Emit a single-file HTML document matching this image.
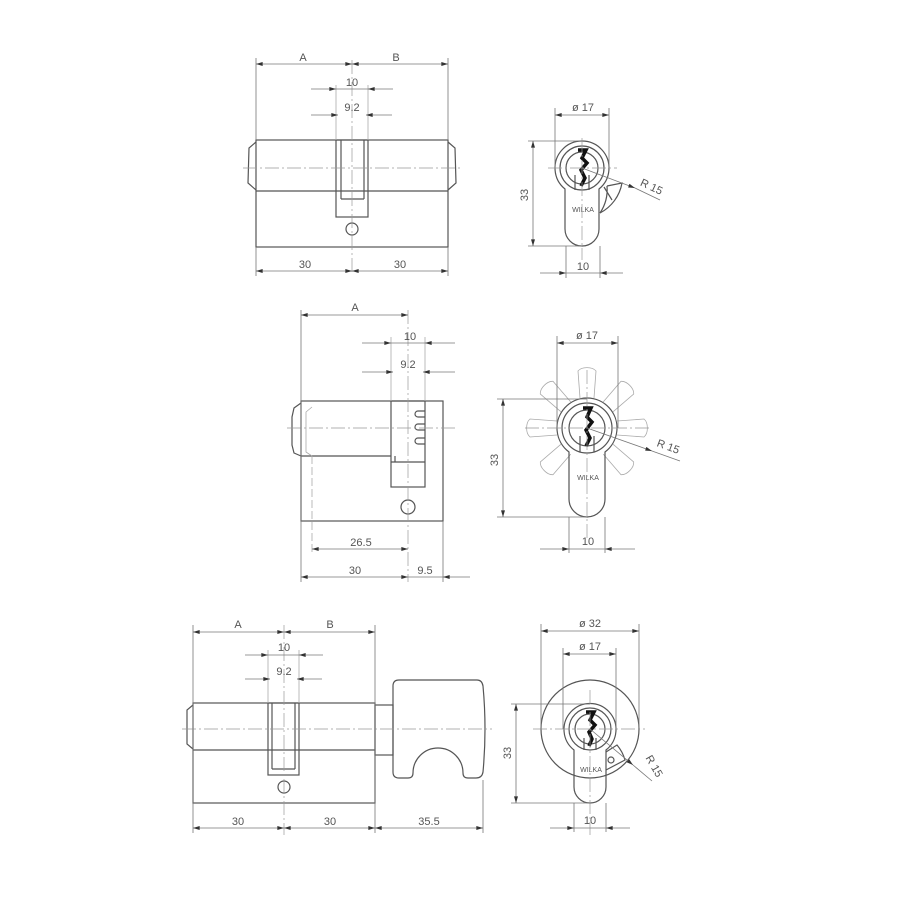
<!DOCTYPE html>
<html><head><meta charset="utf-8"><style>
html,body{margin:0;padding:0;background:#fff}
svg{display:block}
text{font-family:"Liberation Sans",sans-serif;fill:#555;font-size:11px;text-anchor:middle}
.o{fill:none;stroke:#555;stroke-width:1.2}
.d{fill:none;stroke:#777;stroke-width:0.8}
.c{fill:none;stroke:#999;stroke-width:0.7;stroke-dasharray:14 3 2 3}
.l{fill:none;stroke:#aaa;stroke-width:0.8}
</style></head><body>
<svg width="900" height="900" viewBox="0 0 900 900" xmlns="http://www.w3.org/2000/svg">
<defs>
<marker id="a" viewBox="0 0 10 6" refX="10" refY="3" markerWidth="10" markerHeight="4" orient="auto-start-reverse" markerUnits="userSpaceOnUse"><path d="M0,0 L10,3 L0,6z" fill="#333"/></marker>
</defs>

<!-- ===== Drawing 1 side ===== -->
<g>
<rect class="o" x="256" y="140" width="192" height="107"/>
<line class="o" x1="256" y1="191" x2="448" y2="191"/>
<path class="o" d="M256,142 L249,148 L248,183 L256,190"/>
<path class="o" d="M448,142 L455,148 L456,183 L448,190"/>
<rect class="o" x="336" y="140" width="32" height="77" fill="#fff"/>
<line class="o" x1="341" y1="140" x2="341" y2="199"/>
<line class="o" x1="364" y1="140" x2="364" y2="199"/>
<line class="o" x1="341" y1="199" x2="364" y2="199"/>
<circle class="o" cx="352" cy="229" r="6"/>
<line class="c" x1="243" y1="168" x2="462" y2="168"/>
<line class="c" x1="352" y1="60" x2="352" y2="275"/>
<line class="d" x1="256" y1="58" x2="256" y2="140"/>
<line class="d" x1="448" y1="58" x2="448" y2="140"/>
<line class="d" x1="256" y1="64" x2="352" y2="64" marker-start="url(#a)" marker-end="url(#a)"/>
<line class="d" x1="352" y1="64" x2="448" y2="64" marker-start="url(#a)" marker-end="url(#a)"/>
<text x="303" y="61">A</text><text x="396" y="61">B</text>
<line class="l" x1="336" y1="85" x2="336" y2="140"/>
<line class="l" x1="368" y1="85" x2="368" y2="140"/>
<line class="d" x1="311" y1="89" x2="336" y2="89" marker-end="url(#a)"/>
<line class="d" x1="393" y1="89" x2="368" y2="89" marker-end="url(#a)"/>
<line class="d" x1="336" y1="89" x2="368" y2="89"/>
<text x="352" y="86">10</text>
<line class="d" x1="311" y1="115" x2="338" y2="115" marker-end="url(#a)"/>
<line class="d" x1="392" y1="115" x2="366" y2="115" marker-end="url(#a)"/>
<text x="352" y="111">9.2</text>
<line class="d" x1="256" y1="247" x2="256" y2="276"/>
<line class="d" x1="448" y1="247" x2="448" y2="276"/>
<line class="d" x1="256" y1="271" x2="352" y2="271" marker-start="url(#a)" marker-end="url(#a)"/>
<line class="d" x1="352" y1="271" x2="448" y2="271" marker-start="url(#a)" marker-end="url(#a)"/>
<text x="305" y="268">30</text><text x="400" y="268">30</text>
</g>

<!-- ===== Drawing 1 front ===== -->
<g>
<path class="o" d="M565,189 A27,27 0 1 1 599,189 L599,229 A17,17 0 0 1 565,229 Z"/>
<circle class="o" cx="582" cy="168" r="22"/>
<circle class="o" cx="582" cy="168" r="16"/>
<path d="M578,150 L586,150 L582,158 L587,163 L581,170 L585,178 L581,186" fill="none" stroke="#111" stroke-width="3.5"/>
<line class="o" x1="575" y1="175" x2="575" y2="190"/><line class="o" x1="589" y1="175" x2="589" y2="190"/>
<path class="o" d="M604,187 L612,200 M607,186 A42,42 0 0 1 600,213"/>
<path class="o" d="M607,186 L622,183 A42,42 0 0 1 600,213"/>
<text x="583" y="212" style="font-size:7px">WILKA</text>
<line class="c" x1="548" y1="168" x2="617" y2="168"/>
<line class="c" x1="582" y1="138" x2="582" y2="260"/>
<line class="d" x1="555" y1="108" x2="555" y2="168"/>
<line class="d" x1="609" y1="108" x2="609" y2="168"/>
<line class="d" x1="555" y1="115" x2="609" y2="115" marker-start="url(#a)" marker-end="url(#a)"/>
<text x="583" y="111">ø 17</text>
<line class="d" x1="528" y1="141" x2="582" y2="141"/>
<line class="d" x1="528" y1="246" x2="582" y2="246"/>
<line class="d" x1="533" y1="141" x2="533" y2="246" marker-start="url(#a)" marker-end="url(#a)"/>
<text transform="translate(528,195) rotate(-90)">33</text>
<line class="d" x1="566" y1="246" x2="566" y2="278"/>
<line class="d" x1="600" y1="246" x2="600" y2="278"/>
<line class="d" x1="540" y1="273" x2="566" y2="273" marker-end="url(#a)"/>
<line class="d" x1="623" y1="273" x2="600" y2="273" marker-end="url(#a)"/>
<line class="d" x1="566" y1="273" x2="600" y2="273"/>
<text x="583" y="270">10</text>
<line class="d" x1="582" y1="168" x2="635" y2="188" marker-end="url(#a)"/>
<line class="d" x1="635" y1="188" x2="660" y2="200"/>
<text transform="translate(650,190) rotate(25)">R 15</text>
</g>

<!-- ===== Drawing 2 side ===== -->
<g>
<rect class="o" x="301" y="401" width="142" height="120"/>
<line class="o" x1="301" y1="456" x2="391" y2="456"/>
<path class="o" d="M301,403 L294,408 L292,417 L292,445 L294,453 L301,456"/>
<path class="l" d="M312,407 L306,412 L306,452 L312,456"/>
<rect class="o" x="391" y="401" width="34" height="86"/>
<line class="o" x1="391" y1="462" x2="425" y2="462"/>
<line class="o" x1="395" y1="456" x2="395" y2="462"/>
<path class="o" d="M425,411 L418,411 A3,3 0 0 0 418,417 L425,417 M425,424 L418,424 A3,3 0 0 0 418,430 L425,430 M425,438 L418,438 A3,3 0 0 0 418,444 L425,444"/>
<circle class="o" cx="408" cy="507" r="7"/>
<line class="c" x1="287" y1="428" x2="455" y2="428"/>
<line class="c" x1="408" y1="310" x2="408" y2="582"/>
<line class="l" x1="312" y1="456" x2="312" y2="554" stroke-dasharray="8 3"/>
<line class="d" x1="301" y1="310" x2="301" y2="582"/>
<line class="d" x1="301" y1="315" x2="408" y2="315" marker-start="url(#a)" marker-end="url(#a)"/>
<text x="355" y="311">A</text>
<line class="l" x1="391" y1="337" x2="391" y2="401"/>
<line class="l" x1="425" y1="337" x2="425" y2="401"/>
<line class="d" x1="362" y1="343" x2="391" y2="343" marker-end="url(#a)"/>
<line class="d" x1="455" y1="343" x2="425" y2="343" marker-end="url(#a)"/>
<line class="d" x1="391" y1="343" x2="425" y2="343"/>
<text x="410" y="340">10</text>
<line class="d" x1="362" y1="372" x2="393" y2="372" marker-end="url(#a)"/>
<line class="d" x1="455" y1="372" x2="423" y2="372" marker-end="url(#a)"/>
<text x="408" y="368">9.2</text>
<line class="d" x1="312" y1="549" x2="408" y2="549" marker-start="url(#a)" marker-end="url(#a)"/>
<text x="361" y="546">26.5</text>
<line class="d" x1="443" y1="521" x2="443" y2="582"/>
<line class="d" x1="301" y1="577" x2="408" y2="577" marker-start="url(#a)" marker-end="url(#a)"/>
<line class="d" x1="408" y1="577" x2="443" y2="577"/>
<line class="d" x1="470" y1="577" x2="443" y2="577" marker-end="url(#a)"/>
<text x="355" y="574">30</text><text x="425" y="574">9.5</text>
</g>

<!-- ===== Drawing 2 front ===== -->
<g>
<g class="l" stroke="#aaa">
<g transform="translate(587,428)">
<path d="M-7,-30 L-9,-57 A10,6 0 0 1 9,-57 L7,-30" transform="rotate(0)"/>
<path d="M-7,-30 L-9,-57 A10,6 0 0 1 9,-57 L7,-30" transform="rotate(45)"/>
<path d="M-7,-30 L-9,-57 A10,6 0 0 1 9,-57 L7,-30" transform="rotate(90)"/>
<path d="M-7,-30 L-9,-57 A10,6 0 0 1 9,-57 L7,-30" transform="rotate(135)"/>
<path d="M-7,-30 L-9,-57 A10,6 0 0 1 9,-57 L7,-30" transform="rotate(-45)"/>
<path d="M-7,-30 L-9,-57 A10,6 0 0 1 9,-57 L7,-30" transform="rotate(-90)"/>
<path d="M-7,-30 L-9,-57 A10,6 0 0 1 9,-57 L7,-30" transform="rotate(-135)"/>
</g></g>
<path class="o" d="M569,452 A30,30 0 1 1 605,452 L605,499 A18,18 0 0 1 569,499 Z" fill="#fff"/>
<circle class="o" cx="587" cy="428" r="25"/>
<circle class="o" cx="587" cy="428" r="18"/>
<path d="M583,408 L591,408 L587,417 L592,422 L586,430 L590,438 L586,446" fill="none" stroke="#111" stroke-width="3.5"/>
<line class="o" x1="580" y1="436" x2="580" y2="452"/><line class="o" x1="594" y1="436" x2="594" y2="452"/>
<text x="588" y="480" style="font-size:7px">WILKA</text>
<line class="c" x1="525" y1="428" x2="650" y2="428"/>
<line class="c" x1="587" y1="370" x2="587" y2="540"/>
<line class="d" x1="557" y1="336" x2="557" y2="428"/>
<line class="d" x1="618" y1="336" x2="618" y2="428"/>
<line class="d" x1="557" y1="343" x2="618" y2="343" marker-start="url(#a)" marker-end="url(#a)"/>
<text x="587" y="339">ø 17</text>
<line class="d" x1="497" y1="399" x2="587" y2="399"/>
<line class="d" x1="497" y1="517" x2="587" y2="517"/>
<line class="d" x1="503" y1="399" x2="503" y2="517" marker-start="url(#a)" marker-end="url(#a)"/>
<text transform="translate(498,460) rotate(-90)">33</text>
<line class="d" x1="569" y1="517" x2="569" y2="553"/>
<line class="d" x1="605" y1="517" x2="605" y2="553"/>
<line class="d" x1="540" y1="549" x2="569" y2="549" marker-end="url(#a)"/>
<line class="d" x1="635" y1="549" x2="605" y2="549" marker-end="url(#a)"/>
<line class="d" x1="569" y1="549" x2="605" y2="549"/>
<text x="588" y="545">10</text>
<line class="d" x1="587" y1="428" x2="652" y2="451" marker-end="url(#a)"/>
<line class="d" x1="652" y1="451" x2="680" y2="461"/>
<text transform="translate(667,450) rotate(20)">R 15</text>
</g>

<!-- ===== Drawing 3 side ===== -->
<g>
<rect class="o" x="193" y="703" width="182" height="100"/>
<line class="o" x1="193" y1="750" x2="375" y2="750"/>
<path class="o" d="M193,705 L187,710 L187,744 L193,749"/>
<rect class="o" x="268" y="703" width="31" height="72"/>
<line class="o" x1="272" y1="703" x2="272" y2="769"/>
<line class="o" x1="295" y1="703" x2="295" y2="769"/>
<line class="o" x1="272" y1="769" x2="295" y2="769"/>
<circle class="o" cx="284" cy="787" r="6"/>
<rect class="o" x="375" y="705" width="18" height="50"/>
<path class="o" d="M399,680 L477,680 Q482,680 483,686 Q487,729 483,772 Q482,778 476,778 L468,778 Q463,778 463,773 A25,25 0 0 0 413,773 Q413,778 408,778 L399,778 Q393,778 393,772 L393,686 Q393,680 399,680 Z"/>
<line class="c" x1="182" y1="729" x2="492" y2="729"/>
<line class="c" x1="284" y1="625" x2="284" y2="835"/>
<line class="d" x1="193" y1="625" x2="193" y2="833"/>
<line class="d" x1="375" y1="625" x2="375" y2="833"/>
<line class="d" x1="483" y1="780" x2="483" y2="833"/>
<line class="d" x1="193" y1="632" x2="284" y2="632" marker-start="url(#a)" marker-end="url(#a)"/>
<line class="d" x1="284" y1="632" x2="375" y2="632" marker-start="url(#a)" marker-end="url(#a)"/>
<text x="238" y="628">A</text><text x="330" y="628">B</text>
<line class="l" x1="268" y1="650" x2="268" y2="703"/>
<line class="l" x1="299" y1="650" x2="299" y2="703"/>
<line class="d" x1="245" y1="655" x2="268" y2="655" marker-end="url(#a)"/>
<line class="d" x1="323" y1="655" x2="299" y2="655" marker-end="url(#a)"/>
<line class="d" x1="268" y1="655" x2="299" y2="655"/>
<text x="284" y="651">10</text>
<line class="d" x1="245" y1="679" x2="270" y2="679" marker-end="url(#a)"/>
<line class="d" x1="322" y1="679" x2="297" y2="679" marker-end="url(#a)"/>
<text x="284" y="675">9.2</text>
<line class="d" x1="193" y1="828" x2="284" y2="828" marker-start="url(#a)" marker-end="url(#a)"/>
<line class="d" x1="284" y1="828" x2="375" y2="828" marker-start="url(#a)" marker-end="url(#a)"/>
<line class="d" x1="375" y1="828" x2="483" y2="828" marker-start="url(#a)" marker-end="url(#a)"/>
<text x="238" y="825">30</text><text x="330" y="825">30</text><text x="429" y="825">35.5</text>
</g>

<!-- ===== Drawing 3 front ===== -->
<g>
<circle class="o" cx="590" cy="729" r="49"/>
<path class="o" d="M574,750 A26,26 0 1 1 606,750 L606,787 A16,16 0 0 1 574,787 Z" fill="#fff"/>
<circle class="o" cx="590" cy="729" r="21"/>
<circle class="o" cx="590" cy="729" r="15"/>
<path d="M586,712 L594,712 L590,720 L595,725 L589,732 L592,739 L589,746" fill="none" stroke="#111" stroke-width="3.5"/>
<line class="o" x1="584" y1="738" x2="584" y2="750"/><line class="o" x1="596" y1="738" x2="596" y2="750"/>
<path class="o" d="M606,752 L617,745 A40,40 0 0 1 625,760 L606,770"/>
<circle class="o" cx="611" cy="760" r="3"/>
<text x="591" y="772" style="font-size:7px">WILKA</text>
<line class="c" x1="533" y1="729" x2="645" y2="729"/>
<line class="c" x1="590" y1="690" x2="590" y2="835"/>
<line class="d" x1="541" y1="624" x2="541" y2="729"/>
<line class="d" x1="639" y1="624" x2="639" y2="729"/>
<line class="d" x1="541" y1="631" x2="639" y2="631" marker-start="url(#a)" marker-end="url(#a)"/>
<text x="590" y="627">ø 32</text>
<line class="d" x1="563" y1="648" x2="563" y2="729"/>
<line class="d" x1="616" y1="648" x2="616" y2="729"/>
<line class="d" x1="563" y1="654" x2="616" y2="654" marker-start="url(#a)" marker-end="url(#a)"/>
<text x="590" y="650">ø 17</text>
<line class="d" x1="511" y1="704" x2="590" y2="704"/>
<line class="d" x1="511" y1="803" x2="590" y2="803"/>
<line class="d" x1="516" y1="704" x2="516" y2="803" marker-start="url(#a)" marker-end="url(#a)"/>
<text transform="translate(511,753) rotate(-90)">33</text>
<line class="d" x1="574" y1="803" x2="574" y2="832"/>
<line class="d" x1="606" y1="803" x2="606" y2="832"/>
<line class="d" x1="550" y1="828" x2="574" y2="828" marker-end="url(#a)"/>
<line class="d" x1="630" y1="828" x2="606" y2="828" marker-end="url(#a)"/>
<line class="d" x1="574" y1="828" x2="606" y2="828"/>
<text x="590" y="824">10</text>
<line class="d" x1="590" y1="729" x2="633" y2="765" marker-end="url(#a)"/>
<line class="d" x1="633" y1="765" x2="652" y2="781"/>
<text transform="translate(651,768) rotate(60)">R 15</text>
</g>
</svg>
</body></html>
